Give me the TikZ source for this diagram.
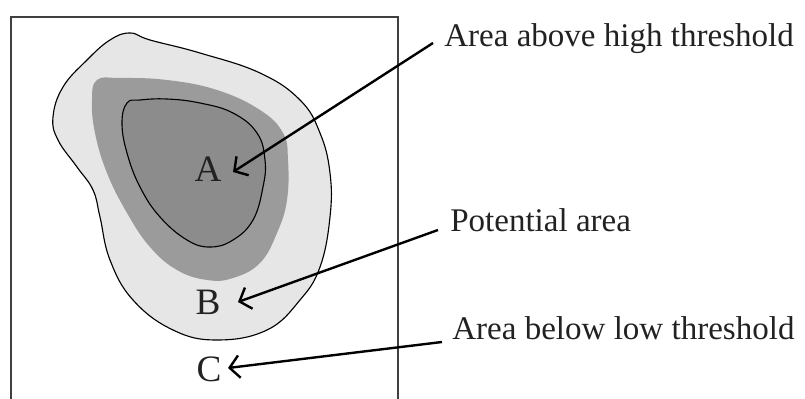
\documentclass[tikz,border=0pt]{standalone}
\usepackage{fontspec}
\setmainfont{Liberation Serif}
\usepackage{tikz}
\usetikzlibrary{arrows.meta,calc}
\definecolor{lowgray}{RGB}{230,230,230}
\definecolor{potgray}{RGB}{155,155,155}
\definecolor{highgray}{RGB}{140,140,140}
\definecolor{inkgray}{RGB}{34,34,34}

\begin{document}
\begin{tikzpicture}[x=0.025cm,y=-0.025cm,
    lbl/.style={text=inkgray,font=\fontsize{23.5pt}{26pt}\selectfont,inner sep=0pt},
    zone/.style={text=inkgray,font=\fontsize{26.5pt}{28pt}\selectfont,inner sep=0pt},
    arr/.style={line width=1.7pt,{Straight Barb[length=7pt,width=16pt]}-}]
    \useasboundingbox (0,0) rectangle (805,399);

    % Frame
    \draw[line width=1.1pt,black!75] (11,399) -- (11,17) -- (398,17) -- (398,399);

    % Regions
    \filldraw[fill=lowgray,draw=black,line width=0.8pt] plot[smooth cycle,tension=0.7] coordinates {
        (130,33) (150,40) (200,53) (260,73) (300,100) (320,133) (330,173) (330,217)
        (320,267) (300,300) (267,330) (217,340) (173,330) (133,300) (110,260) (100,217)
        (93,190) (77,167) (58,140) (53,117) (63,87) (87,60) (110,40)};
    \fill[potgray] plot[smooth cycle,tension=0.7] coordinates {
        (97,80) (120,78) (167,80) (217,90) (260,110) (283,133) (288,160) (287,200)
        (277,233) (260,263) (233,278) (207,280) (177,270) (150,247) (127,213) (107,173)
        (95,133) (92,100)};
    \filldraw[fill=highgray,draw=black,line width=0.8pt] plot[smooth cycle,tension=0.7] coordinates {
        (127,103) (140,100) (167,99) (200,103) (233,113) (257,133) (265,160) (263,187)
        (253,220) (233,240) (210,247) (187,240) (160,217) (140,187) (127,153) (122,123)};

    % Zones
    \node[zone] (A) at (208,169) {A};
    \node[zone] (B) at (208,302) {B};
    \node[zone] (C) at (209,369) {C};

    % Labels
    \node[lbl,anchor=base west] (high) at (444,47) {Area above high threshold};
    \node[lbl,anchor=base west] (pot) at (450,232) {Potential area};
    \node[lbl,anchor=base west] (low) at (452,340) {Area below low threshold};

    % Arrows
    \draw[arr] ($(A.center)+(25,3)$) -- ($(high.base west)+(-11,-4)$);
    \draw[arr] ($(B.center)+(30,0)$) -- ($(pot.base west)+(-12,-2)$);
    \draw[arr] ($(C.center)+(19,-1)$) -- ($(low.base west)+(-10,2)$);
\end{tikzpicture}
\end{document}
